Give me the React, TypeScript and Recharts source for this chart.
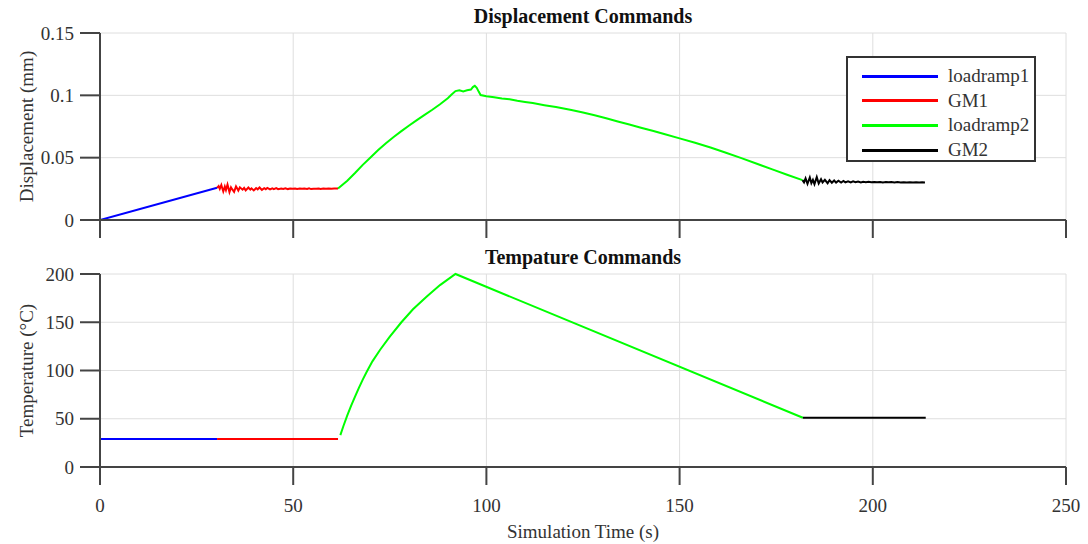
import { LineChart, Line, XAxis, YAxis, CartesianGrid, Legend, Label } from 'recharts'

// time ticks / value ticks
const timeTicks = [0, 50, 100, 150, 200, 250]
const dispTicks = [0, 0.05, 0.1, 0.15]
const tempTicks = [0, 50, 100, 150, 200]

const seriesNames = ['loadramp1', 'GM1', 'loadramp2', 'GM2']
const seriesColors = ['#0000ff', '#ff0000', '#00ff00', '#000000']

// displacement commands [time s, mm]
const dispLoadramp1 = [[0, 0], [30.3, 0.0258]]
const dispGM1 = [
  [30.3, 0.0258], [30.7, 0.0272], [31.0, 0.0250], [31.4, 0.0281], [31.9, 0.0229], [32.3, 0.0268],
  [32.6, 0.0240], [33.0, 0.0284], [33.5, 0.0224], [33.9, 0.0262], [34.2, 0.0247], [34.7, 0.0226],
  [35.2, 0.0270], [35.8, 0.0236], [36.2, 0.0262], [36.9, 0.0243], [37.3, 0.0257], [37.7, 0.0238],
  [38.4, 0.0261], [38.9, 0.0244], [39.2, 0.0254], [39.8, 0.0237], [40.4, 0.0256], [40.8, 0.0246],
  [41.3, 0.0261], [41.9, 0.0242], [42.5, 0.0255], [42.9, 0.0247], [43.3, 0.0257], [44.0, 0.0245],
  [44.6, 0.0254], [45.0, 0.0248], [45.6, 0.0256], [46.1, 0.0247], [46.9, 0.0253], [47.4, 0.0249],
  [48.0, 0.0255], [48.6, 0.0248], [49.2, 0.0253], [49.9, 0.0250], [50.5, 0.0252], [51.0, 0.0249],
  [51.7, 0.0253], [52.3, 0.0250], [52.9, 0.0252], [53.6, 0.0249], [54.1, 0.0255], [54.6, 0.0248],
  [55.3, 0.0251], [56.0, 0.0250], [56.6, 0.0253], [57.1, 0.0249], [57.8, 0.0252], [58.5, 0.0250],
  [59.2, 0.0253], [59.9, 0.0251], [60.6, 0.0252], [61.6, 0.0252],
]
const dispLoadramp2 = [
  [61.6, 0.0252], [64, 0.0315], [66, 0.0377], [68, 0.0442], [70, 0.0502], [72, 0.0561], [74, 0.0616],
  [76, 0.0666], [78, 0.0713], [80, 0.0758], [82, 0.0801], [84, 0.0843], [86, 0.0884], [88, 0.0928],
  [90, 0.0976], [91, 0.1006], [92, 0.1034], [93, 0.1041], [94, 0.1032], [95, 0.1040], [96, 0.1046],
  [96.5, 0.1066], [97, 0.1076], [97.5, 0.1060], [98, 0.1030], [98.5, 0.1002], [100, 0.0992],
  [102, 0.0985], [104, 0.0974], [106, 0.0969], [108, 0.0957], [110, 0.0947], [112, 0.0938],
  [115, 0.0921], [118, 0.0906], [120, 0.0895], [122, 0.0882], [125, 0.0863], [128, 0.0840],
  [131, 0.0816], [134, 0.0790], [137, 0.0766], [140, 0.0740], [143, 0.0716], [146, 0.0690],
  [150, 0.0655], [154, 0.0620], [158, 0.0581], [162, 0.0540], [166, 0.0496], [170, 0.0451],
  [174, 0.0406], [178, 0.0361], [181.8, 0.0320],
]
const dispGM2 = [
  [181.8, 0.0320], [182.2, 0.0302], [182.6, 0.0334], [183.1, 0.0290], [183.7, 0.0341], [184.1, 0.0296],
  [184.5, 0.0322], [184.9, 0.0288], [185.5, 0.0344], [186.0, 0.0293], [186.6, 0.0327], [187.0, 0.0301],
  [187.6, 0.0322], [188.3, 0.0295], [188.8, 0.0320], [189.4, 0.0299], [190.0, 0.0317], [190.5, 0.0300],
  [191.1, 0.0315], [191.8, 0.0301], [192.4, 0.0313], [192.9, 0.0302], [193.6, 0.0311], [194.3, 0.0302],
  [194.9, 0.0310], [195.5, 0.0303], [196.2, 0.0309], [196.9, 0.0302], [197.5, 0.0307], [198.2, 0.0303],
  [198.9, 0.0306], [199.6, 0.0302], [200.4, 0.0305], [201.1, 0.0302], [201.9, 0.0305], [202.6, 0.0301],
  [203.4, 0.0304], [204.1, 0.0302], [204.8, 0.0305], [205.6, 0.0300], [206.4, 0.0304], [207.2, 0.0301],
  [208.0, 0.0303], [208.8, 0.0300], [209.6, 0.0303], [210.4, 0.0301], [211.2, 0.0302], [212.0, 0.0300],
  [212.8, 0.0302], [213.5, 0.0301],
]

// temperature commands [time s, degC]
const tempLoadramp1 = [[0, 29], [30.3, 29]]
const tempGM1 = [[30.3, 29], [61.6, 29]]
const tempLoadramp2 = [
  [62.2, 33], [63, 42.5], [64, 53.5], [65, 63.5], [66, 73], [67, 82], [68, 90.5], [69, 98.5],
  [70.5, 109.5], [72.5, 121.5], [75, 135], [78, 150], [81, 163.5], [84.5, 176.5], [88, 188.5],
  [92, 200], [181.9, 51],
]
const tempGM2 = [[181.9, 51], [213.7, 51]]

const toPoints = (arr: number[][]) => arr.map(([t, v]) => ({ t, v }))

const dispSeries = [dispLoadramp1, dispGM1, dispLoadramp2, dispGM2].map(toPoints)
const tempSeries = [tempLoadramp1, tempGM1, tempLoadramp2, tempGM2].map(toPoints)

const FONT = "'Liberation Serif', 'Times New Roman', serif"
const AXIS = '#444'
const tickStyle = { fontSize: 19, fill: '#333', fontFamily: FONT }

function AxisTitle({ viewBox, text }: any) {
  const cy = viewBox.y + viewBox.height / 2
  return (
    <text x={26} y={cy} transform={`rotate(-90, 26, ${cy})`} textAnchor="middle"
      dominantBaseline="central" fontSize={19} fill="#333" fontFamily={FONT}>
      {text}
    </text>
  )
}

function LegendBox({ payload }: any) {
  // keep the plotting order, not alphabetical
  const items = [...(payload || [])].sort(
    (a: any, b: any) => seriesNames.indexOf(a.value) - seriesNames.indexOf(b.value))
  return (
    <div style={{ border: '2px solid #333', background: '#fff', width: 190, height: 106, boxSizing: 'border-box', paddingTop: 6 }}>
      {items.map((p: any) => (
        <div key={p.value} style={{ display: 'flex', alignItems: 'center', height: 24.6 }}>
          <div style={{ marginLeft: 14, width: 76, height: 3, background: p.color }} />
          <span style={{ marginLeft: 10, fontSize: 19, color: '#333', fontFamily: FONT }}>{p.value}</span>
        </div>
      ))}
    </div>
  )
}

const titleStyle = {
  position: 'absolute' as const, left: 100, width: 966, textAlign: 'center' as const,
  fontFamily: FONT, fontWeight: 700, fontSize: 20, color: '#111',
}

export default function App() {
  return (
    <div style={{ position: 'absolute', left: 0, top: 0, width: 1088, height: 544, background: '#fff', fontFamily: FONT }}>
      <div style={{ ...titleStyle, top: 5 }}>Displacement Commands</div>
      <LineChart width={1088} height={240} margin={{ top: 33, right: 22, bottom: 0, left: 0 }}>
        <CartesianGrid stroke="#dedede" strokeWidth={1} />
        <XAxis dataKey="t" type="number" domain={[0, 250]} ticks={timeTicks} allowDataOverflow
          height={20} tickSize={18} tickFormatter={() => ''} stroke={AXIS} strokeWidth={2} />
        <YAxis type="number" domain={[0, 0.15]} ticks={dispTicks} width={100} tickSize={20} tickMargin={6}
          tick={tickStyle} stroke={AXIS} strokeWidth={2}>
          <Label content={(props: any) => <AxisTitle {...props} text="Displacement (mm)" />} />
        </YAxis>
        {dispSeries.map((d, i) => (
          <Line key={seriesNames[i]} data={d} dataKey="v" name={seriesNames[i]} stroke={seriesColors[i]}
            strokeWidth={2} dot={false} activeDot={false} isAnimationActive={false} />
        ))}
        <Legend layout="vertical" align="center" verticalAlign="middle" content={<LegendBox />}
          wrapperStyle={{ position: 'absolute', left: 846, top: 56, width: 190 }} />
      </LineChart>

      <div style={{ ...titleStyle, top: 246 }}>Tempature Commands</div>
      <LineChart width={1088} height={304} margin={{ top: 34, right: 22, bottom: 0, left: 0 }}>
        <CartesianGrid stroke="#dedede" strokeWidth={1} />
        <XAxis dataKey="t" type="number" domain={[0, 250]} ticks={timeTicks} allowDataOverflow
          height={77} tickSize={18} tickMargin={14} tick={tickStyle} stroke={AXIS} strokeWidth={2}>
          <Label value="Simulation Time (s)" position="insideBottom" offset={6}
            style={{ fontSize: 19, fill: '#333', fontFamily: FONT }} />
        </XAxis>
        <YAxis type="number" domain={[0, 200]} ticks={tempTicks} width={100} tickSize={20} tickMargin={6}
          tick={tickStyle} stroke={AXIS} strokeWidth={2}>
          <Label content={(props: any) => <AxisTitle {...props} text="Temperature (°C)" />} />
        </YAxis>
        {tempSeries.map((d, i) => (
          <Line key={seriesNames[i]} data={d} dataKey="v" name={seriesNames[i]} stroke={seriesColors[i]}
            strokeWidth={2} dot={false} activeDot={false} isAnimationActive={false} />
        ))}
      </LineChart>
    </div>
  )
}
